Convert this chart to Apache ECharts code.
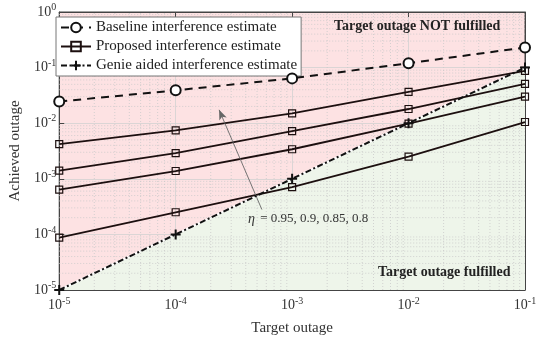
<!DOCTYPE html>
<html>
<head>
<meta charset="utf-8">
<script src="https://cdn.jsdelivr.net/npm/echarts@6/dist/echarts.min.js"></script>
<style>
  html, body { margin: 0; padding: 0; background: #fff; }
  #chart { width: 540px; height: 341px; }
</style>
</head>
<body>
<div id="chart"></div>
<script>
// target outage on x, achieved outage on y
const targetOutage = [1e-5, 1e-4, 1e-3, 1e-2, 1e-1];
const baseline = [0.0245, 0.039, 0.064, 0.12, 0.23];
const genie = [1e-5, 1e-4, 1e-3, 1e-2, 1e-1];
// proposed estimate, eta = 0.8 (top) ... 0.95 (bottom)
const proposedEta080 = [0.0042, 0.0074, 0.015, 0.0366, 0.087];
const proposedEta085 = [0.0014, 0.0029, 0.0072, 0.018, 0.051];
const proposedEta090 = [0.00064, 0.00138, 0.0034, 0.0098, 0.030];
const proposedEta095 = [0.0000877, 0.00025, 0.00071, 0.0025, 0.0105];
const xDecades = [-5, -4, -3, -2];
const yDecades = [-5, -4, -3, -2, -1];
const xRange = [1e-5, 1e-1];
const yRange = [1e-5, 1];

const serif = 'Liberation Serif';
const zip = ys => targetOutage.map((x, i) => [x, ys[i]]);

// dotted minor grid at 2..9 x 10^k, one broken polyline
const minorGrid = [];
xDecades.forEach(k => {
  for (let m = 2; m <= 9; m++) {
    const v = m * Math.pow(10, k);
    minorGrid.push([v, yRange[0]], [v, yRange[1]], [v, '-']);
  }
});
yDecades.forEach(k => {
  for (let m = 2; m <= 9; m++) {
    const v = m * Math.pow(10, k);
    minorGrid.push([xRange[0], v], [xRange[1], v], ['-', v]);
  }
});

const tickLabel = v => '{b|10}{s|' + Math.round(Math.log10(v)) + '}';
const labelRich = {
  b: { fontFamily: serif, fontSize: 14, color: '#333' },
  s: { fontFamily: serif, fontSize: 10, color: '#333', padding: [0, 0, 9, 0] }
};

const plus = 'path://M0,-5L0,5M-5,0L5,0';

function proposedSeries(ys) {
  return {
    name: 'Proposed interference estimate',
    type: 'line',
    data: zip(ys),
    symbol: 'rect',
    symbolSize: 7,
    z: 4,
    lineStyle: { color: '#1c0f0f', width: 1.8 },
    itemStyle: { color: 'rgba(0,0,0,0)', borderColor: '#1c0f0f', borderWidth: 1.2 }
  };
}

// mirrored box axes (ticks only) on top and right
const boxAxis = (pos, range) => ({
  type: 'log', min: range[0], max: range[1], logBase: 10, position: pos,
  axisLine: { show: true, lineStyle: { color: '#444' } },
  axisTick: { show: true, inside: true, length: 5, lineStyle: { color: '#444' } },
  axisLabel: { show: false },
  splitLine: { show: false }
});

const chart = echarts.init(document.getElementById('chart'));
chart.setOption({
  animation: false,
  grid: {
    left: 50, right: 15, top: 12, bottom: 50,
    show: true, backgroundColor: '#fde2e3', borderColor: '#444', borderWidth: 1
  },
  legend: {
    orient: 'vertical',
    left: 56, top: 17,
    itemWidth: 30, itemHeight: 12, itemGap: 4,
    padding: [3, 4, 3, 4],
    backgroundColor: '#fff',
    borderColor: '#777', borderWidth: 1, borderRadius: 0,
    textStyle: { fontFamily: serif, fontSize: 15, color: '#222' },
    data: ['Baseline interference estimate', 'Proposed interference estimate', 'Genie aided interference estimate']
  },
  xAxis: [{
    type: 'log', min: xRange[0], max: xRange[1], logBase: 10,
    name: 'Target outage', nameLocation: 'middle', nameGap: 31,
    nameTextStyle: { fontFamily: serif, fontSize: 15, color: '#333' },
    axisLine: { lineStyle: { color: '#444' } },
    axisTick: { inside: true, length: 5, lineStyle: { color: '#444' } },
    axisLabel: { formatter: tickLabel, rich: labelRich, margin: 6 },
    splitLine: { show: true, lineStyle: { color: '#d2d2d2', width: 0.8 } }
  }, boxAxis('top', xRange)],
  yAxis: [{
    type: 'log', min: yRange[0], max: yRange[1], logBase: 10,
    name: 'Achieved outage', nameLocation: 'middle', nameGap: 36,
    nameTextStyle: { fontFamily: serif, fontSize: 15, color: '#333' },
    axisLine: { lineStyle: { color: '#444' } },
    axisTick: { inside: true, length: 5, lineStyle: { color: '#444' } },
    axisLabel: { formatter: tickLabel, rich: labelRich, margin: 3 },
    splitLine: { show: true, lineStyle: { color: '#d2d2d2', width: 0.8 } }
  }, boxAxis('right', yRange)],
  series: [
    {
      // "fulfilled" region under the genie diagonal
      name: 'fulfilled',
      type: 'line',
      data: zip(genie),
      symbol: 'none',
      silent: true,
      z: 1,
      lineStyle: { color: '#fff', width: 2 },
      areaStyle: { color: '#eef5ea', opacity: 1, origin: 'start' },
      markLine: {
        silent: true,
        symbol: ['none', 'none'],
        label: { show: false },
        data: [[
          { coord: [5.5e-4, 2.8e-4], symbol: 'none', lineStyle: { color: '#666', type: 'solid', width: 0.9 } },
          { coord: [2.36e-4, 0.0174], symbol: 'arrow', symbolSize: [6, 10] }
        ]]
      }
    },
    {
      name: 'minor grid',
      type: 'line',
      data: minorGrid,
      symbol: 'none',
      silent: true,
      connectNulls: false,
      z: 2,
      lineStyle: { color: '#c9c9c9', width: 0.8, type: [1, 2] }
    },
    {
      name: 'Baseline interference estimate',
      type: 'line',
      data: zip(baseline),
      symbol: 'emptyCircle',
      symbolSize: 10,
      z: 5,
      lineStyle: { color: '#111', width: 2, type: [8, 6] },
      itemStyle: { color: '#111', borderColor: '#111', borderWidth: 2 }
    },
    proposedSeries(proposedEta080),
    proposedSeries(proposedEta085),
    proposedSeries(proposedEta090),
    proposedSeries(proposedEta095),
    {
      name: 'Genie aided interference estimate',
      type: 'line',
      data: zip(genie),
      symbol: plus,
      symbolSize: 10,
      z: 6,
      lineStyle: { color: '#111', width: 2, type: [6, 2.5, 2, 2.5] },
      itemStyle: { color: 'none', borderColor: '#111', borderWidth: 2 }
    }
  ],
  graphic: [
    {
      type: 'text', left: 334, top: 19, z: 100,
      style: { text: 'Target outage NOT fulfilled', font: 'bold 14px "Liberation Serif"', fill: '#222' }
    },
    {
      type: 'text', left: 378, top: 265, z: 100,
      style: { text: 'Target outage fulfilled', font: 'bold 14px "Liberation Serif"', fill: '#222' }
    },
    {
      type: 'text', left: 248, top: 212, z: 100,
      style: { text: 'η', font: 'italic 14px "Liberation Serif"', fill: '#333' }
    },
    {
      type: 'text', left: 257, top: 212, z: 100,
      style: { text: ' = 0.95, 0.9, 0.85, 0.8', font: '13px "Liberation Serif"', fill: '#333' }
    }
  ]
});
</script>
</body>
</html>
